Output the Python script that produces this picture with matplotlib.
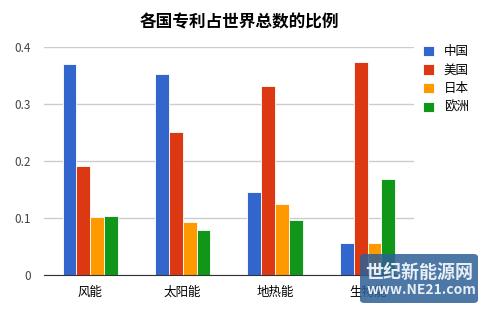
import numpy as np
import matplotlib.pyplot as plt
from matplotlib.patches import FancyBboxPatch

plt.rcParams['font.family'] = ['Noto Sans CJK SC', 'DejaVu Sans']

categories = ['风能', '太阳能', '地热能', '生物能']
series_names = ['中国', '美国', '日本', '欧洲']
china = [0.370, 0.353, 0.146, 0.056]
usa = [0.191, 0.251, 0.332, 0.374]
japan = [0.102, 0.093, 0.125, 0.056]
europe = [0.104, 0.079, 0.097, 0.168]
colors = ['#3366cc', '#dc3912', '#ff9900', '#109618']

fig = plt.figure(figsize=(4.84, 3.09), dpi=100)
ax = fig.add_axes([0.091, 0.110, 0.764, 0.738])

x = np.arange(len(categories))
w = 0.15
for i, (vals, name) in enumerate(zip([china, usa, japan, europe], series_names)):
    ax.bar(x + (i - 1.5) * w, vals, w, color=colors[i], label=name,
           edgecolor='white', linewidth=0.6, zorder=3)

ax.set_xlim(-0.5, 3.5)
ax.set_ylim(0, 0.4)
ax.set_yticks([0, 0.1, 0.2, 0.3, 0.4])
ax.set_yticklabels(['0', '0.1', '0.2', '0.3', '0.4'], color='#444444', fontsize=8.5)
ax.set_xticks(x)
ax.set_xticklabels(categories, fontsize=9)
ax.tick_params(axis='x', length=0, pad=8)
ax.tick_params(axis='y', length=0, pad=9.5)
ax.grid(axis='y', color='#cccccc', linewidth=1, zorder=0)
for s in ['top', 'right', 'left']:
    ax.spines[s].set_visible(False)
ax.spines['bottom'].set_color('#333333')
ax.spines['bottom'].set_zorder(4)

fig.text(0.495, 0.928, '各国专利占世界总数的比例', ha='center', va='center',
         fontsize=12, fontweight='bold')

ax.legend(loc='upper left', bbox_to_anchor=(1.01, 1.03), frameon=False,
          fontsize=9, handlelength=0.9, handleheight=0.9, handletextpad=0.8,
          labelspacing=0.45, borderaxespad=0)

# watermark
box = FancyBboxPatch((360 / 484, 6 / 309), 118 / 484, 49 / 309,
                     boxstyle='round,pad=0,rounding_size=0.01',
                     transform=fig.transFigure, facecolor='#2e5f96', alpha=0.85,
                     edgecolor='none', zorder=10)
fig.patches.append(box)
fig.text(419 / 484, 1 - 272 / 309, '世纪新能源网', ha='center', va='center',
         fontsize=13, fontweight='bold', color='#e8eef6', zorder=11)
fig.text(422 / 484, 1 - 290 / 309, 'www.NE21.com', ha='center', va='center',
         fontsize=10, fontweight='bold', color='#e8eef6', zorder=11)

fig.savefig('out.png', dpi=100)
